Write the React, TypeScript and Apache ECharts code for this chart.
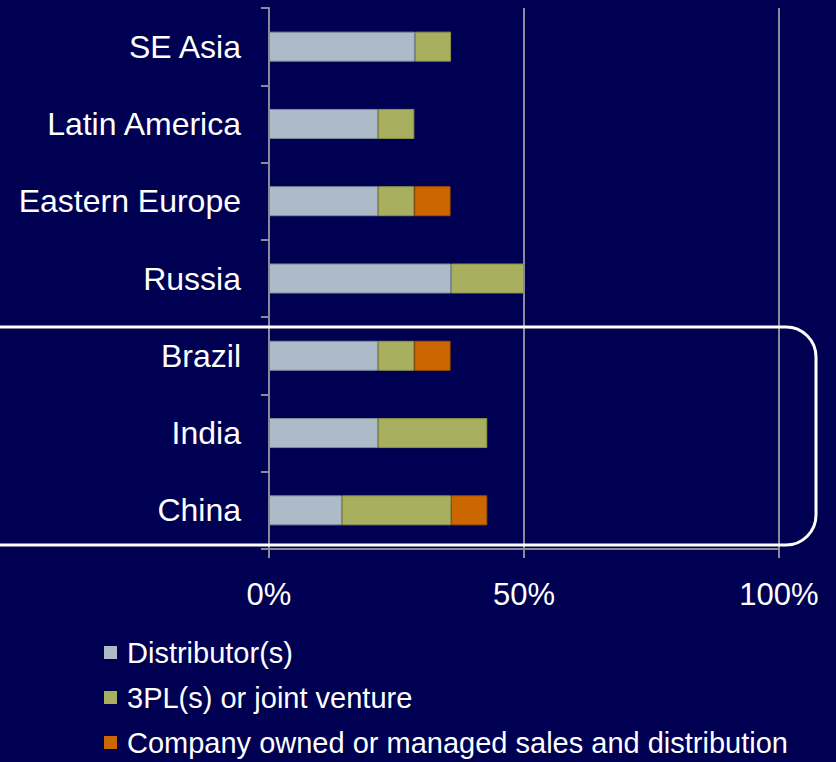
import React, { useEffect, useRef } from "react";
import * as echarts from "echarts";

const categories = ["SE Asia", "Latin America", "Eastern Europe", "Russia", "Brazil", "India", "China"];
const distributors = [28.6, 21.4, 21.4, 35.7, 21.4, 21.4, 14.3];
const thirdParty = [7.1, 7.1, 7.1, 14.3, 7.1, 21.4, 21.4];
const companyOwned = [0, 0, 7.1, 0, 7.1, 0, 7.1];
const seriesNames = ["Distributor(s)", "3PL(s) or joint venture", "Company owned or managed sales and distribution"];
const xTicks = [0, 50, 100];

const FONT = "'Liberation Sans', Arial, sans-serif";

export default function App() {
  const ref = useRef<HTMLDivElement>(null);
  useEffect(() => {
    if (!ref.current) return;
    const chart = echarts.init(ref.current, null, { renderer: "svg" });
    const mk = (name: string, data: number[], color: string, border: string) => ({
      name,
      type: "bar",
      stack: "total",
      data: data.map((v) => (v === 0 ? null : v)),
      barWidth: 30,
      itemStyle: { color, borderColor: border, borderWidth: 1 },
    });
    chart.setOption({
      animation: false,
      backgroundColor: "#000052",
      textStyle: { fontFamily: FONT },
      grid: { left: 269, right: 57, top: 8, bottom: 213, containLabel: false },
      xAxis: {
        type: "value",
        min: xTicks[0],
        max: xTicks[xTicks.length - 1],
        interval: 50,
        axisLine: { show: true, lineStyle: { color: "#8a8a9a", width: 2 } },
        axisTick: { show: true, length: 9, lineStyle: { color: "#8a8a9a", width: 2 } },
        splitLine: { show: true, lineStyle: { color: "#8a8a9a", width: 2 } },
        axisLabel: { color: "#ffffff", fontSize: 31, fontFamily: FONT, margin: 30, formatter: "{value}%" },
      },
      yAxis: {
        type: "category",
        data: categories,
        inverse: true,
        axisLine: { show: true, lineStyle: { color: "#8a8a9a", width: 2 } },
        axisTick: { show: true, length: 8, lineStyle: { color: "#8a8a9a", width: 2 } },
        axisLabel: { color: "#ffffff", fontSize: 32, fontFamily: FONT, margin: 28 },
      },
      legend: {
        orient: "vertical",
        left: 104,
        top: 637,
        padding: 0,
        height: 125,
        icon: "rect",
        itemWidth: 13,
        itemHeight: 13,
        itemGap: 14,
        selectedMode: false,
        itemStyle: { borderWidth: 0 },
        data: seriesNames,
        textStyle: { color: "#ffffff", fontSize: 29, fontFamily: FONT, lineHeight: 31, padding: [0, 0, 0, 5] },
      },
      series: [
        mk(seriesNames[0], distributors, "#adbac7", "#7f8c9c"),
        mk(seriesNames[1], thirdParty, "#a8b060", "#8a9247"),
        mk(seriesNames[2], companyOwned, "#cc6600", "#a85200"),
      ],
      graphic: [
        {
          type: "rect",
          shape: { x: -40, y: 327, width: 856, height: 218, r: 30 },
          style: { fill: "none", stroke: "#ffffff", lineWidth: 3 },
          z: 100,
        },
      ],
    });
    return () => chart.dispose();
  }, []);
  return <div ref={ref} style={{ position: "absolute", left: 0, top: 0, width: 836, height: 762 }} />;
}
